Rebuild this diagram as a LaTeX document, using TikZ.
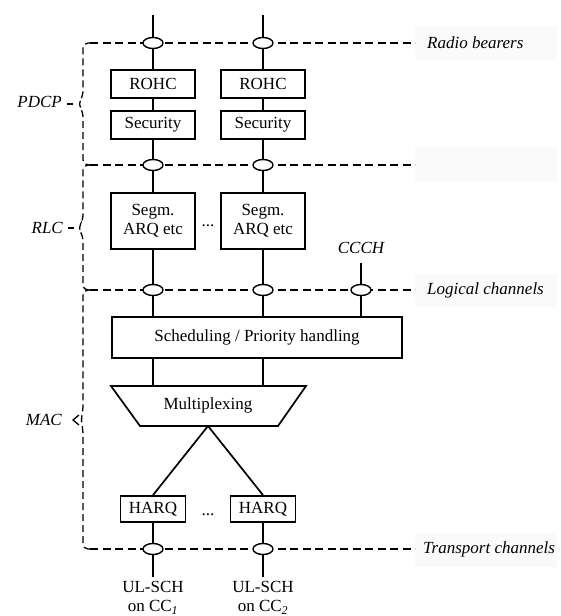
\documentclass[tikz,border=0pt]{standalone}
\usepackage{fontspec}
\setmainfont{Liberation Serif}
\usetikzlibrary{shapes.geometric}
\begin{document}
\begin{tikzpicture}[x=1pt,y=-1pt,
  every node/.style={font=\fontsize{17}{19}\selectfont},
  lw/.style={line width=1.7pt},
  box/.style={draw, line width=1.8pt, fill=white, inner sep=0pt, align=center},
  ell/.style={draw, ellipse, line width=1.4pt, fill=white, minimum width=20pt, minimum height=11pt, inner sep=0pt},
  dline/.style={line width=1.5pt, dash pattern=on 8pt off 4.5pt},
  bline/.style={line width=1.3pt, dash pattern=on 7pt off 4pt, rounded corners=5pt},
  lab/.style={font=\fontsize{17}{19}\selectfont\itshape, inner sep=0pt},
  bg/.style={fill=black!2, draw=none},
]
\useasboundingbox (0,0) rectangle (560,616);

% faint label backgrounds
\fill[bg] (415,26) rectangle (557,60);
\fill[bg] (415,147) rectangle (557,182);
\fill[bg] (415,274) rectangle (557,307);
\fill[bg] (415,533) rectangle (557,567);

% dashed layer boundaries
\draw[dline] (90,43) -- (415,43);
\draw[dline] (90,165) -- (415,165);
\draw[dline] (90,290) -- (415,290);
\draw[dline] (90,549) -- (415,549);

% braces
\draw[bline] (92,43) -- (83,43) -- (83,96) -- (78,104) -- (83,112) -- (83,165) -- (92,165);
\draw[bline] (92,165) -- (83,165) -- (83,220) -- (78,228) -- (83,236) -- (83,290) -- (92,290);
\draw[bline] (92,290) -- (83,290) -- (83,410) -- (81,420) -- (83,430) -- (83,549) -- (92,549);
\draw[line width=1.3pt] (67,104) -- (73,104);
\draw[line width=1.3pt] (68,228) -- (74,228);
\draw[line width=1.3pt] (79,415) -- (73,420) -- (79,425);

\node[lab, anchor=east] (pdcp) at (62,102) {PDCP};
\node[lab, anchor=east] (rlc) at (63,228) {RLC};
\node[lab, anchor=east] (mac) at (62,420) {MAC};

\node[lab, anchor=west] (rb) at (427,43) {Radio bearers};
\node[lab, anchor=west] (lc) at (427,290) {Logical channels};
\node[lab, anchor=west] (tc) at (423,549) {Transport channels};

% boxes
\node[box, minimum width=84pt, minimum height=28pt] (rohc1) at (153,84) {ROHC};
\node[box, minimum width=84pt, minimum height=28pt] (rohc2) at (263,84) {ROHC};
\node[box, minimum width=84pt, minimum height=28pt] (sec1) at (153,125) {Security};
\node[box, minimum width=84pt, minimum height=28pt] (sec2) at (263,125) {Security};
\node[box, minimum width=84pt, minimum height=56pt] (seg1) at (153,221) {Segm.\\ARQ etc};
\node[box, minimum width=84pt, minimum height=56pt] (seg2) at (263,221) {Segm.\\ARQ etc};
\node[anchor=base] (dots1) at (208,226) {...};
\node[box, minimum width=290pt, minimum height=41pt] (sched) at (257,337.5) {Scheduling / Priority handling};

\coordinate (m1) at (111,386);
\coordinate (m2) at (306,386);
\coordinate (m3) at (278,426);
\coordinate (m4) at (140,426);
\coordinate (apex) at (208,426);
\draw[lw, fill=white] (m1) -- (m2) -- (m3) -- (m4) -- cycle;
\node (mux) at (208,405) {Multiplexing};

\node[box, minimum width=65pt, minimum height=26pt] (harq1) at (153,509) {HARQ};
\node[box, minimum width=65pt, minimum height=26pt] (harq2) at (263,509) {HARQ};
\node[anchor=base] (dots2) at (208,515) {...};

% vertical connectors
\coordinate (top1) at (153,15);
\coordinate (top2) at (263,15);
\coordinate (cc1) at (361,263);
\coordinate (bot1) at (153,577);
\coordinate (bot2) at (263,577);
\draw[lw] (top1) -- (rohc1);
\draw[lw] (top2) -- (rohc2);
\draw[lw] (rohc1) -- (sec1);
\draw[lw] (rohc2) -- (sec2);
\draw[lw] (sec1) -- (seg1);
\draw[lw] (sec2) -- (seg2);
\draw[lw] (seg1.south) -- (seg1.south |- sched.north);
\draw[lw] (seg2.south) -- (seg2.south |- sched.north);
\draw[lw] (cc1) -- (cc1 |- sched.north);
\draw[lw] (seg1.south |- sched.south) -- (seg1.south |- m1);
\draw[lw] (seg2.south |- sched.south) -- (seg2.south |- m1);
\draw[lw] (apex) -- (harq1.north);
\draw[lw] (apex) -- (harq2.north);
\draw[lw] (harq1) -- (bot1);
\draw[lw] (harq2) -- (bot2);

% service access points
\node[ell] (e11) at (153,43) {};
\node[ell] (e12) at (263,43) {};
\node[ell] (e21) at (153,165) {};
\node[ell] (e22) at (263,165) {};
\node[ell] (e31) at (153,290) {};
\node[ell] (e32) at (263,290) {};
\node[ell] (e33) at (361,290) {};
\node[ell] (e41) at (153,549) {};
\node[ell] (e42) at (263,549) {};

\node[lab] (ccch) at (361,248) {CCCH};
\node[align=center, inner sep=0pt] (ul1) at (153,598) {UL-SCH\\on CC\textsubscript{\textit{1}}};
\node[align=center, inner sep=0pt] (ul2) at (263,598) {UL-SCH\\on CC\textsubscript{\textit{2}}};
\end{tikzpicture}
\end{document}
